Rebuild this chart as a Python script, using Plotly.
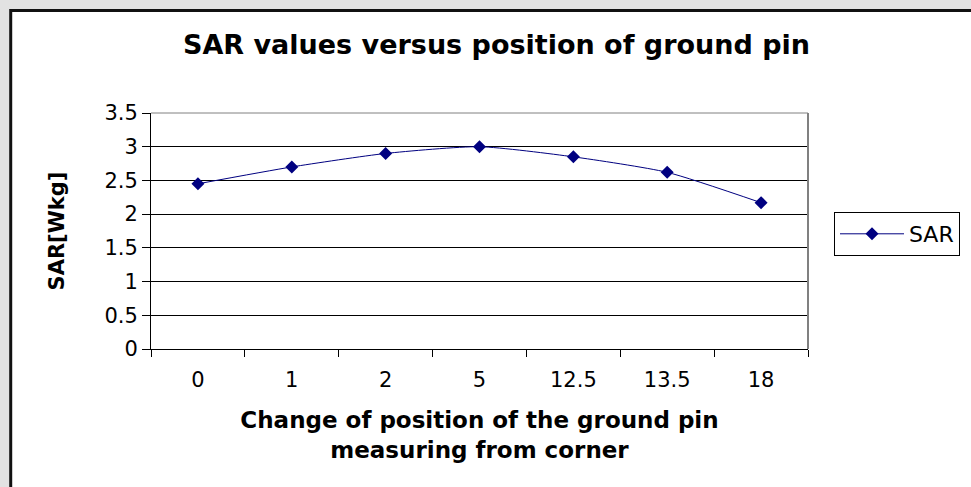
import plotly.graph_objects as go

categories = ["0", "1", "2", "5", "12.5", "13.5", "18"]
sar_values = [2.45, 2.70, 2.90, 3.00, 2.85, 2.62, 2.17]
y_ticks = [0, 0.5, 1, 1.5, 2, 2.5, 3, 3.5]
y_tick_labels = ["0", "0.5", "1", "1.5", "2", "2.5", "3", "3.5"]

W, H = 971, 487
L, R, T, B = 151, 162, 113, 138
pw, ph = W - L - R, H - T - B

def px_to_paper_x(px):
    return (px - L) / pw

def px_to_paper_y(py):
    return 1 - (py - T) / ph

FONT = "DejaVu Sans, Arial, sans-serif"

fig = go.Figure()
fig.add_trace(go.Scatter(
    x=categories, y=sar_values, mode="lines+markers", name="SAR",
    line=dict(color="#000080", width=1, shape="spline", smoothing=0.6),
    marker=dict(symbol="diamond", size=10, color="#000080"),
))

# outer white chart frame
fig.add_shape(type="rect", xref="paper", yref="paper",
              x0=px_to_paper_x(10.5), x1=px_to_paper_x(1100),
              y0=px_to_paper_y(600), y1=px_to_paper_y(10.5),
              fillcolor="white", line=dict(color="#111111", width=3), layer="below")

fig.update_layout(
    width=W, height=H,
    margin=dict(l=L, r=R, t=T, b=B),
    paper_bgcolor="#e2e2e2",
    plot_bgcolor="#c0c0c0",
    font=dict(family=FONT, color="black", size=20),
    title=dict(text="<b>SAR values versus position of ground pin</b>",
               x=px_to_paper_x(497), xref="paper", xanchor="center",
               y=1 - 45 / H, yanchor="middle", font=dict(size=27)),
    showlegend=True,
    legend=dict(x=px_to_paper_x(834), y=px_to_paper_y(212), xanchor="left", yanchor="top",
                bordercolor="black", borderwidth=1, bgcolor="white",
                font=dict(size=22), itemwidth=64),
    xaxis=dict(
        type="category", range=[-0.5, len(categories) - 0.5],
        tickson="boundaries", ticks="outside", ticklen=7,
        tickcolor="black", showline=True, linecolor="black", linewidth=1,
        showgrid=False, mirror=False, ticklabelstandoff=12,
        tickfont=dict(size=21),
        title=dict(text="<b>Change of position of the ground pin<br>measuring from corner</b>",
                   font=dict(size=23), standoff=20),
    ),
    yaxis=dict(
        range=[0, 3.5], tickvals=y_ticks, ticktext=y_tick_labels,
        ticks="outside", ticklen=8, tickcolor="black",
        showline=True, linecolor="black", linewidth=1,
        showgrid=True, gridcolor="black", gridwidth=1, zeroline=False,
        tickfont=dict(size=21),
        title=dict(text="<b>SAR[Wkg]</b>", font=dict(size=21), standoff=34),
    ),
)
# gray borders on top and right of plot area
fig.add_shape(type="line", xref="paper", yref="paper", x0=1, x1=1, y0=0, y1=1,
              line=dict(color="#808080", width=2))
fig.add_shape(type="line", xref="paper", yref="paper", x0=0, x1=1, y0=1, y1=1,
              line=dict(color="#808080", width=1))

fig.write_html("out.html", config={"displayModeBar": False},
               post_script="document.body.style.margin='0';")
